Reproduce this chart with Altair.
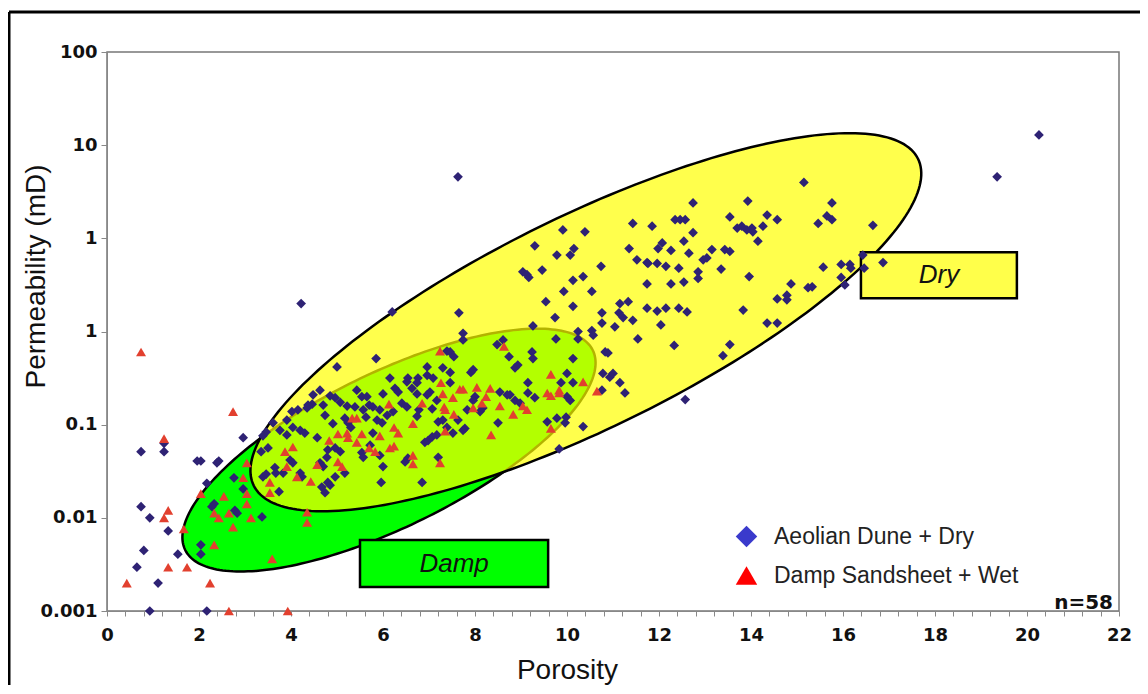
import altair as alt
import numpy as np
import pandas as pd

# ---------------- data (porosity %, log10 permeability mD) ----------------
dune_porosity = [
    0.74, 1.24, 1.24, 0.74, 0.93, 1.33, 0.80, 0.65, 1.11, 0.93, 2.17, 1.96, 2.04, 2.39, 2.43, 2.17,
    2.96, 2.76, 2.96, 2.33, 2.28, 2.78, 2.83, 2.04, 2.04, 1.54, 3.37, 3.46, 3.39, 3.61, 3.74, 3.39,
    3.46, 3.65, 3.67, 3.35, 3.50,
    7.39, 7.46, 7.54, 9.24, 9.26, 8.74, 8.93, 8.87, 10.13, 10.83, 10.89, 10.78, 10.93, 11.0, 10.0,
    9.87, 9.15, 8.54, 8.70, 7.91, 7.96, 7.46, 6.96, 5.85, 5.0, 4.46, 4.37, 5.43, 5.54, 4.96, 5.07,
    5.65, 6.0, 6.26, 6.33, 6.63, 6.74, 6.96, 7.02, 7.17, 7.07, 6.78, 6.74, 6.41, 6.52, 6.22, 6.09,
    5.93, 5.70, 5.78, 5.39, 5.22, 4.85, 4.74, 4.91, 5.17, 5.24, 5.57, 5.63, 5.98, 5.87, 5.78, 5.30,
    4.57, 4.20, 4.30, 4.04, 3.91, 3.76, 3.91, 4.80, 4.96, 5.07, 4.78, 4.63, 4.70, 3.98, 4.04, 3.83,
    4.20, 4.24, 4.80, 4.85, 4.67, 4.96, 5.17, 4.74, 5.54, 5.57, 5.72, 5.93, 6.48, 6.54, 6.0, 6.91,
    6.98, 7.07, 7.17, 7.20, 6.85, 5.96, 7.78, 7.74, 7.52, 7.39, 7.20, 7.30, 7.63, 7.83, 8.11, 8.17,
    8.50, 8.76, 8.87, 8.98, 9.15, 9.30, 9.57, 9.96, 9.98, 10.0, 10.07, 10.13, 8.0, 7.96, 6.76, 6.74,
    6.52, 6.54, 6.15, 6.96, 7.09, 7.30, 7.46, 4.63, 4.48, 4.35, 4.70, 4.15, 4.02, 9.83, 10.35, 9.78,
    10.76, 11.15, 11.26, 13.39,
    7.63, 15.15, 12.74, 13.93, 15.76, 11.43, 11.85, 12.35, 12.46, 12.57, 13.54, 14.35, 14.57, 15.46,
    15.65, 15.76, 16.65, 13.70, 13.80, 13.91, 14.02, 14.04, 14.26, 14.15, 12.74, 12.54, 9.91, 10.39,
    9.30, 9.78, 10.07, 10.15, 9.04, 9.13, 9.17, 9.46, 10.74, 11.35, 11.52, 11.74, 11.76, 11.96, 11.98,
    12.07, 12.26, 12.15, 12.43, 12.65, 13.15, 12.96, 13.04, 12.85, 12.85, 13.35, 13.43, 13.54, 12.54,
    12.26, 11.74, 10.13, 10.35, 9.93, 10.54, 9.54, 10.13, 7.65, 9.74, 10.76, 10.76, 11.15, 11.33,
    11.13, 11.22, 11.43, 11.04, 11.74, 11.96, 12.15, 12.43, 12.61, 12.04, 11.54, 12.33, 13.54, 13.83,
    13.96, 14.57, 14.78, 14.78, 14.87, 15.24, 15.33, 14.35, 14.57, 15.57, 15.96, 16.15, 16.17, 15.96,
    16.04, 16.43, 16.46, 16.87, 7.74, 7.74, 9.26, 9.76, 10.24, 10.24, 10.54, 10.57, 8.61, 8.48,
    20.26, 19.35, 4.22, 6.20, 12.57,
]
dune_log_perm = [
    -1.29, -1.20, -1.29, -1.88, -2.00, -2.14, -2.35, -2.53, -2.70, -3.0, -3.0, -1.39, -1.39, -1.41, -1.39, -1.63,
    -1.14, -1.57, -1.69, -1.85, -1.88, -1.92, -1.95, -2.29, -2.39, -2.39, -1.99, -1.08, -1.12, -0.98, -1.72, -1.56,
    -1.53, -1.46, -1.52, -1.29, -1.25,
    -0.21, -0.22, -0.27, -0.22, -0.29, -0.27, -0.36, -0.39, -0.29, -0.22, -0.23, -0.45, -0.49, -0.45, -0.45,
    -0.55, -0.55, -0.65, -0.68, -0.44, -0.41, -0.44, -0.38, -0.29, -0.38, -0.78, -0.79, -0.63, -0.70, -0.71, -0.76,
    -0.70, -0.67, -0.61, -0.65, -0.61, -0.67, -0.68, -0.65, -0.74, -0.83, -0.84, -0.91, -0.77, -0.81, -0.86, -0.90,
    -0.84, -0.79, -0.81, -0.81, -0.80, -0.69, -0.90, -0.99, -0.93, -0.98, -0.84, -0.92, -0.98, -0.95, -1.09, -1.03,
    -1.14, -1.06, -1.09, -1.03, -0.95, -1.06, -1.11, -1.27, -1.25, -1.29, -1.35, -1.41, -1.45, -1.38, -1.41, -1.52,
    -1.52, -1.56, -1.62, -1.65, -1.67, -1.56, -1.52, -1.73, -1.30, -1.35, -1.22, -1.33, -1.40, -1.36, -1.45, -1.19,
    -1.17, -1.13, -1.11, -1.35, -1.62, -1.62, -1.04, -1.06, -1.09, -1.03, -0.97, -0.95, -0.95, -0.84, -0.86, -0.82,
    -0.98, -0.68, -0.74, -0.77, -0.66, -0.71, -0.97, -0.98, -0.92, -0.70, -0.74, -0.55, -0.70, -0.74, -0.50, -0.55,
    -0.54, -0.50, -0.50, -0.47, -0.50, -0.39, -0.55, -0.63, -0.68, -0.82, -0.79, -0.84, -0.86, -1.26, -1.02, -0.93,
    -0.63, -0.55, -0.66, -0.26,
    1.66, 1.60, 1.38, 1.40, 1.38, 1.16, 1.13, 1.20, 1.20, 1.20, 1.23, 1.25, 1.20, 1.16,
    1.24, 1.20, 1.14, 1.11, 1.13, 1.09, 1.11, 1.07, 1.13, 0.97, 1.06, 0.97, 1.09, 1.07,
    0.92, 0.82, 0.82, 0.89, 0.64, 0.61, 0.58, 0.66, 0.70, 0.89, 0.77, 0.74, 0.73, 0.73, 0.89,
    0.95, 0.87, 0.70, 0.68, 0.84, 0.88, 0.77, 0.79, 0.64, 0.57, 0.67, 0.88, 0.86, 0.53,
    0.51, 0.51, 0.55, 0.59, 0.43, 0.43, 0.32, 0.27, 0.20, 0.15, 0.20, 0.09, 0.30, 0.32,
    0.20, 0.15, 0.12, 0.05, 0.25, 0.22, 0.25, 0.25, 0.21, 0.07, -0.08, -0.15, -0.14, 0.23,
    0.59, 0.35, 0.39, 0.34, 0.51, 0.47, 0.48, 0.09, 0.09, 0.69, 0.72, 0.72, 0.68, 0.58,
    0.50, 0.82, 0.68, 0.74, -0.02, -0.09, 0.06, -0.08, 0.0, -0.08, 0.01, -0.04, -0.09, -0.14,
    2.11, 1.66, 0.30, 0.21, -0.73,
]
wet_porosity = [
    0.74, 2.74, 1.24, 3.04, 2.96, 3.04, 2.04, 2.54, 1.33, 1.24, 3.04, 2.33, 2.43, 2.65, 3.13, 2.74,
    1.67, 2.33, 1.33, 1.74, 3.59, 0.43, 2.24, 2.65, 3.54, 3.54, 3.93, 4.35,
    7.24, 8.63, 9.65, 10.35, 10.65, 9.83, 9.83, 9.57, 9.65, 7.26, 7.67, 7.74, 8.04, 8.33, 8.24, 7.30,
    7.52, 6.85, 7.33, 7.35, 7.96, 8.15, 8.54, 8.83, 9.04, 9.13, 7.54, 8.35, 9.65, 7.35, 6.65, 6.13,
    6.24, 6.33, 5.93, 6.24, 6.15, 6.65, 6.65, 7.24, 5.43, 5.70, 5.83, 5.54, 5.33, 5.43, 5.22, 5.24,
    5.02, 4.83, 4.57, 5.02, 5.11, 4.43, 4.13, 4.04, 3.87, 3.91, 4.35,
]
wet_log_perm = [
    -0.22, -0.86, -1.15, -1.41, -1.57, -1.74, -1.74, -1.77, -1.92, -2.0, -1.85, -1.95, -2.0, -1.95, -2.0, -2.10,
    -2.12, -2.29, -2.53, -2.53, -2.44, -2.70, -2.70, -3.0, -1.62, -1.73, -3.0, -2.05,
    -0.21, -0.16, -0.46, -0.54, -0.64, -0.63, -0.66, -0.66, -0.69, -0.55, -0.62, -0.62, -0.60, -0.61, -0.70, -0.67,
    -0.71, -0.77, -0.81, -0.84, -0.82, -0.77, -0.80, -0.89, -0.80, -0.84, -0.89, -1.11, -1.04, -1.07, -0.99, -0.78,
    -1.03, -1.09, -1.12, -1.23, -1.25, -1.33, -1.42, -1.41, -1.19, -1.25, -1.29, -1.10, -0.93, -0.93, -1.09, -1.14,
    -1.10, -1.17, -1.43, -1.40, -1.45, -1.61, -1.56, -1.24, -1.29, -1.45, -1.94,
]

series_names = ["Aeolian Dune + Dry", "Damp Sandsheet + Wet"]
series_colors = ["#2e2274", "#e2402f"]
legend_colors = ["#3a3acc", "#ff0000"]
series_shapes = ["diamond", "triangle-up"]

# ellipses: centre (porosity, log10 k), major and minor half-axis vectors
dry_ellipse = dict(cx=10.41, cl=0.10, ax=7.22, al=1.754, bx=1.02, bl=-1.02)
damp_ellipse = dict(cx=6.13, cl=-1.273, ax=4.43, al=1.072, bx=0.737, bl=-0.741)

# label boxes
box_names = ["Dry", "Damp"]
box_x1 = [16.39, 5.50]
box_x2 = [19.78, 9.59]
box_y1 = [7.1, 0.00578]
box_y2 = [2.28, 0.00181]
box_fill = ["#ffff4a", "#00ff00"]

x_tick_values = [round(0.4 * i, 1) for i in range(56)]
y_tick_values = [0.001, 0.01, 0.1, 1, 10, 100, 1000]
y_tick_labels = ["0.001", "0.01", "0.1", "1", "1", "10", "100"]

# ---------------- build frames ----------------
dune_df = pd.DataFrame({"x": dune_porosity, "y": 10 ** np.array(dune_log_perm), "type": series_names[0]})
wet_df = pd.DataFrame({"x": wet_porosity, "y": 10 ** np.array(wet_log_perm), "type": series_names[1]})
all_pts = pd.concat([dune_df, wet_df], ignore_index=True)


def ellipse_df(p, n=240):
    t = np.linspace(0, 2 * np.pi, n + 1)
    xx = p["cx"] + p["ax"] * np.cos(t) + p["bx"] * np.sin(t)
    ll = p["cl"] + p["al"] * np.cos(t) + p["bl"] * np.sin(t)
    return pd.DataFrame({"x": xx, "y": 10 ** ll, "i": np.arange(n + 1)})


green_df = ellipse_df(damp_ellipse)
yellow_df = ellipse_df(dry_ellipse)

boxes = pd.DataFrame({
    "name": box_names, "x": box_x1, "x2": box_x2, "y": box_y1, "y2": box_y2, "fill": box_fill,
})
box_labels = pd.DataFrame({
    "name": box_names,
    "x": [(a + b) / 2 for a, b in zip(box_x1, box_x2)],
    "y": [float(np.sqrt(a * b)) for a, b in zip(box_y1, box_y2)],
})

xs = alt.Scale(domain=[0, 22], nice=False, zero=False)
ys = alt.Scale(type="log", domain=[0.001, 1000], nice=False)

x_label_expr = "abs(datum.value - round(datum.value / 2) * 2) < 0.01 ? format(datum.value, 'd') : ''"
y_label_expr = "".join(
    f"abs(log(datum.value) / LN10 - ({np.log10(v):.3f})) < 0.05 ? '{lab}' : "
    for v, lab in zip(y_tick_values, y_tick_labels)
) + "''"

x_axis = alt.Axis(values=x_tick_values, labelExpr=x_label_expr, labelOverlap=False, tickSize=5,
                  labelPadding=10, title="Porosity", titleX=460, titleY=67, titleAlign="center",
                  titleBaseline="alphabetic", labelFlush=False, grid=False)
y_axis = alt.Axis(values=y_tick_values, labelExpr=y_label_expr, labelOverlap=False, tickSize=6,
                  labelPadding=4, title="Permeability (mD)", titleX=-63, titleY=224, titleAngle=270,
                  titleAlign="center", titleBaseline="alphabetic", labelFlush=False, grid=False)

X = alt.X("x:Q", scale=xs, axis=x_axis)
Y = alt.Y("y:Q", scale=ys, axis=y_axis)

green = alt.Chart(green_df).mark_line(fill="#00ff00", stroke="black", strokeWidth=2.5).encode(
    x=X, y=Y, order="i:Q",
)
yellow = alt.Chart(yellow_df).mark_line(fill="#ffff00", fillOpacity=0.7, stroke="black", strokeWidth=2.5).encode(
    x=X, y=Y, order="i:Q",
)
rects = alt.Chart(boxes).mark_rect(stroke="black", strokeWidth=2.5).encode(
    x=X, x2="x2:Q", y=Y, y2="y2:Q", fill=alt.Fill("fill:N", scale=None),
)
rect_text = alt.Chart(box_labels).mark_text(font="Liberation Sans", fontStyle="italic", fontSize=26,
                                            color="#111").encode(x=X, y=Y, text="name:N")

dune_pts = alt.Chart(dune_df).mark_point(filled=True, size=95, opacity=1, shape=series_shapes[0],
                                         color=series_colors[0]).encode(x=X, y=Y)
wet_pts = alt.Chart(wet_df).mark_point(filled=True, size=100, opacity=1, shape=series_shapes[1],
                                       color=series_colors[1]).encode(x=X, y=Y)

# legend only (no marks drawn): explicit scale domains drive the two entries
legend_def = alt.Legend(title=None, orient="none", legendX=628, legendY=473,
                        labelFontSize=23, labelFont="Liberation Sans", labelColor="#222", labelLimit=0,
                        symbolSize=460, labelOffset=16, rowPadding=15, padding=0, symbolStrokeWidth=0,
                        symbolOpacity=1)
legend_layer = alt.Chart(all_pts).transform_filter("datum.x < -1000").mark_point(filled=True, size=95).encode(
    x=X, y=Y,
    color=alt.Color("type:N", scale=alt.Scale(domain=series_names, range=legend_colors), legend=legend_def),
    shape=alt.Shape("type:N", scale=alt.Scale(domain=series_names, range=series_shapes), legend=legend_def),
)
ntext = alt.Chart(pd.DataFrame({"t": ["n=58"]})).mark_text(
    align="right", baseline="alphabetic", font="DejaVu Sans", fontWeight="bold", fontSize=20, color="#111"
).encode(x=alt.value(1006), y=alt.value(557), text="t:N")

frame_left = alt.Chart(pd.DataFrame({"a": [0]})).mark_rule(color="black", strokeWidth=3).encode(
    x=alt.value(-98), y=alt.value(-40), y2=alt.value(720))
frame_top = alt.Chart(pd.DataFrame({"a": [0]})).mark_rule(color="black", strokeWidth=3).encode(
    x=alt.value(-98), x2=alt.value(1100), y=alt.value(-40))

chart = alt.layer(green, yellow, rects, rect_text, dune_pts, wet_pts, legend_layer, ntext,
                  frame_left, frame_top).properties(
    width=1012, height=559,
    padding={"left": 99, "top": 44, "right": 21, "bottom": 74},
    autosize=alt.AutoSizeParams(type="none"),
    background="white",
).configure_view(stroke="#777", strokeWidth=1.5).configure_axis(
    grid=False, domainColor="#888", tickColor="#888", labelColor="#111",
    labelFont="DejaVu Sans", labelFontWeight="bold", labelFontSize=18, labelOverlap=False,
    titleFont="Liberation Sans", titleFontSize=28, titleFontWeight="normal", titleColor="#111",
)

chart.save("out.html", embed_options={"renderer": "svg", "actions": False})
